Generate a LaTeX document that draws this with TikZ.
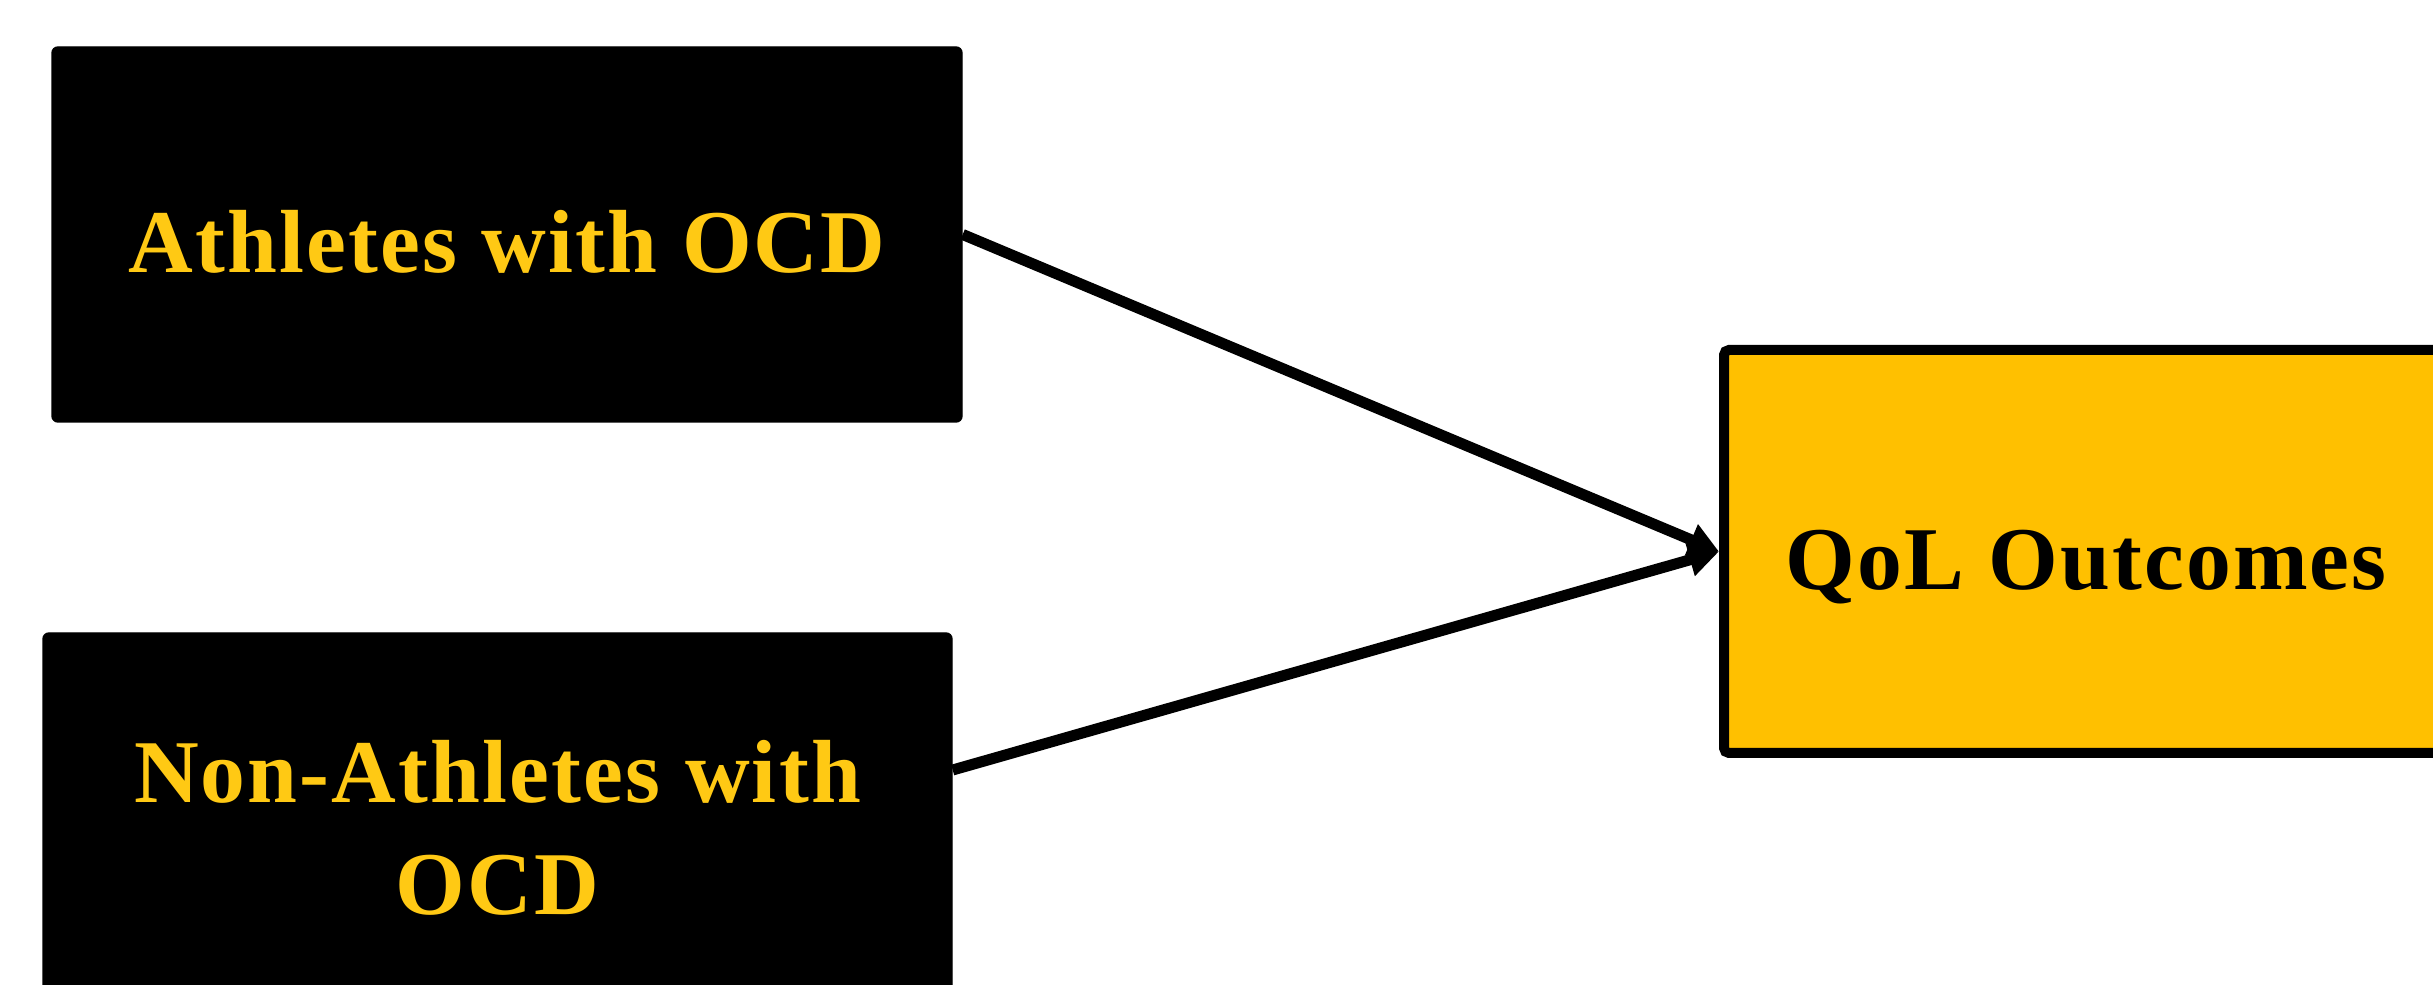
\documentclass[tikz,border=0pt]{standalone}
\usepackage{fontspec}
\setmainfont{Liberation Serif}[LetterSpace=2.4]
\usetikzlibrary{arrows.meta}
\definecolor{ocdgold}{HTML}{FFC914}
\definecolor{qolgold}{HTML}{FFC000}
\tikzset{
    every node/.style={rectangle, align=center, inner sep=0pt,
    	font=\fontsize{25.5}{32}\selectfont\bfseries}
}
\tikzset{
    group/.style={fill=black, draw=black, text=ocdgold, rounded corners=0.6mm}
}
\tikzset{
    outcome/.style={fill=qolgold, draw=black, line width=1mm, rounded corners=0.5mm}
}
\tikzset{
    oneline/.style={text height=0.79cm, text depth=0.02cm}
}
\tikzset{
    every edge/.append style={line width=1.1mm,
    	-{Triangle[length=3mm, width=3.2mm]}}
}

\begin{document}
\begin{tikzpicture}
	\useasboundingbox (0cm, 0cm) rectangle (24.33cm, -9.85cm);
	\clip (0cm, 0cm) rectangle (24.33cm, -9.85cm);

	\node (A) [group, oneline, minimum width=9.10cm, minimum height=3.75cm] at ( 5.070cm, -2.345cm) {Athletes with OCD};
	\node (N) [group, minimum width=9.09cm, minimum height=3.90cm] at ( 4.975cm, -8.280cm) {Non-Athletes with\\OCD};
	\node (Q) [outcome, oneline, minimum width=7.24cm, minimum height=4.03cm] at (20.860cm, -5.515cm) {QoL Outcomes};

	\draw (A.east) edge (Q.west);
	\draw ([yshift=5.8mm]N.east) edge (Q.west);
\end{tikzpicture}
\end{document}
